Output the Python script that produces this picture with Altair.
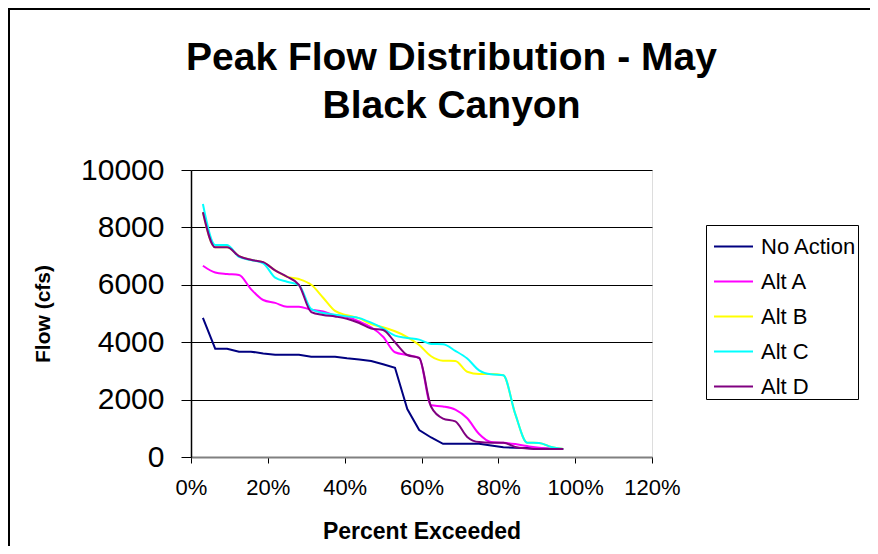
import altair as alt
import pandas as pd

# Percent exceeded (as %)
pct = [3.1, 6.3, 9.4, 12.5, 15.6, 18.8, 21.9, 25.0, 28.1, 31.3, 34.4, 37.5, 40.6,
       43.8, 46.9, 50.0, 53.1, 56.3, 59.4, 62.5, 65.6, 68.8, 71.9, 75.0, 78.1,
       81.3, 84.4, 87.5, 90.6, 93.8, 96.9]

no_action = [4850, 3775, 3775, 3670, 3670, 3610, 3565, 3565, 3565, 3495, 3495, 3495,
             3440, 3400, 3345, 3230, 3110, 1670, 940, 680, 460, 460, 460, 460, 400,
             340, 320, 310, 300, 290, 280]
alt_a = [6665, 6430, 6376, 6340, 5850, 5470, 5370, 5237, 5237, 5130, 5070, 4940,
         4890, 4720, 4520, 4190, 3650, 3554, 3450, 1800, 1760, 1650, 1350, 800, 520,
         498, 450, 380, 320, 290, 280]
alt_b = [8525, 7306, 7306, 7000, 6870, 6790, 6500, 6280, 6200, 6000, 5550, 5090,
         4940, 4830, 4630, 4520, 4380, 4180, 3900, 3510, 3355, 3345, 2970, 2892, 2892,
         2850, 1500, 500, 490, 350, 280]
alt_c = [8815, 7387, 7387, 6970, 6864, 6750, 6250, 6108, 5990, 5150, 5020, 4960,
         4900, 4840, 4680, 4480, 4230, 4150, 4090, 3940, 3930, 3700, 3430, 3020, 2880,
         2850, 1500, 500, 490, 350, 280]
alt_d = [8525, 7306, 7306, 7000, 6870, 6790, 6500, 6280, 6000, 5050, 4950, 4895,
         4820, 4670, 4480, 4425, 4000, 3554, 3450, 1750, 1340, 1240, 700, 520, 500,
         498, 350, 300, 280, 280, 280]

series_names = ["No Action", "Alt A", "Alt B", "Alt C", "Alt D"]
series_colors = ["#000080", "#FF00FF", "#FFFF00", "#00FFFF", "#800080"]
series_values = [no_action, alt_a, alt_b, alt_c, alt_d]

rows = []
for name, vals in zip(series_names, series_values):
    for p, v in zip(pct, vals):
        rows.append({"series": name, "pct": p / 100.0, "flow": v})
df = pd.DataFrame(rows)

FONT = "Liberation Sans"

color = alt.Color(
    "series:N",
    scale=alt.Scale(domain=series_names, range=series_colors),
    sort=series_names,
    legend=alt.Legend(
        title=None,
        orient="none",
        legendX=515,
        legendY=55,
        symbolType="stroke",
        symbolSize=1521,
        symbolStrokeWidth=2,
        symbolOffset=6,
        labelFontSize=22,
        labelFont=FONT,
        labelColor="black",
        labelOffset=7,
        rowPadding=3,
        padding=1,
        strokeColor="#000000",
        fillColor="white",
    ),
)

x = alt.X(
    "pct:Q",
    scale=alt.Scale(domain=[0, 1.2], nice=False),
    axis=alt.Axis(
        values=[0, 0.2, 0.4, 0.6, 0.8, 1.0, 1.2],
        format=".0%",
        labelOverlap=False,
        labelFlush=False,
        title="Percent Exceeded",
        titleFont=FONT,
        titleFontSize=23,
        titleFontWeight="bold",
        titleColor="black",
        titleBaseline="alphabetic",
        titleY=81,
        labelFont=FONT,
        labelFontSize=22,
        labelColor="black",
        labelPadding=14,
        tickSize=6,
        tickColor="black",
        domainColor="#808080",
        domainWidth=2,
        grid=False,
    ),
)
y = alt.Y(
    "flow:Q",
    scale=alt.Scale(domain=[0, 10000], nice=False),
    axis=alt.Axis(
        values=[0, 2000, 4000, 6000, 8000, 10000],
        format="d",
        labelOverlap=False,
        labelFlush=False,
        title="Flow (cfs)",
        titleFont=FONT,
        titleFontSize=21,
        titleFontWeight="bold",
        titleColor="black",
        titleX=-148,
        titleY=143.5,
        titleAngle=270,
        titleAlign="center",
        titleBaseline="middle",
        labelFont=FONT,
        labelFontSize=30,
        labelColor="black",
        labelPadding=17,
        tickSize=10,
        tickColor="black",
        domainColor="black",
        domainWidth=1.5,
        grid=True,
        gridColor="black",
        gridWidth=1,
    ),
)

one = alt.Data(values=[{}])
frame_top = alt.Chart(one).mark_rule(stroke="black", strokeWidth=2, clip=False).encode(
    x=alt.value(-182), x2=alt.value(700), y=alt.value(-161)
)
frame_left = alt.Chart(one).mark_rule(stroke="black", strokeWidth=2, clip=False).encode(
    x=alt.value(-182), y=alt.value(-162), y2=alt.value(400)
)

base = alt.Chart(df)
line_na = base.transform_filter(alt.datum.series == "No Action").mark_line(
    strokeWidth=2, interpolate="linear"
).encode(x=x, y=y, color=color)
line_alts = base.transform_filter(alt.datum.series != "No Action").mark_line(
    strokeWidth=2, interpolate="monotone"
).encode(x=x, y=y, color=color)

chart = alt.layer(frame_top, frame_left, line_na, line_alts).properties(
    width=461,
    height=287,
    autosize=alt.AutoSizeParams(type="none"),
    padding={"left": 183, "top": 162, "right": 218, "bottom": 89},
    title=alt.TitleParams(
        text=["Peak Flow Distribution - May", "Black Canyon"],
        font=FONT,
        fontSize=39,
        fontWeight="bold",
        color="black",
        lineHeight=48,
        anchor="middle",
        frame="group",
        dx=30,
        dy=119,
        offset=0,
    ),
).configure_view(
    fill="#C0C0C0", stroke="#808080", strokeWidth=2
).configure(background="white")

chart.save("out.html", embed_options={"renderer": "svg", "actions": False})
